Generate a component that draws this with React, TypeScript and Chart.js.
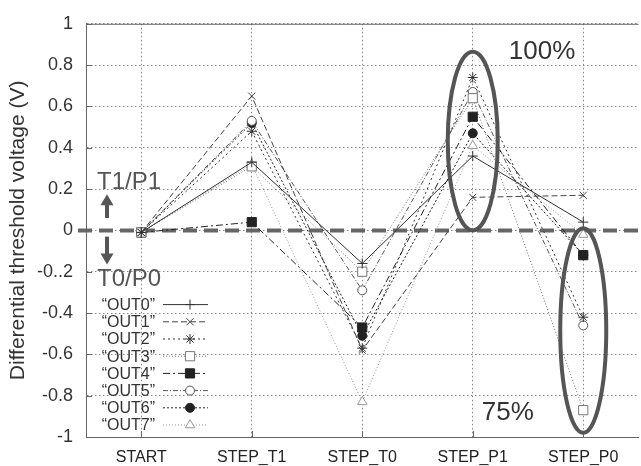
import React, { useEffect, useRef } from 'react';
import { Chart, registerables } from 'chart.js';

Chart.register(...registerables);

const categories = ['START', 'STEP_T1', 'STEP_T0', 'STEP_P1', 'STEP_P0'];
const yTickLabels = ['-1', '-0.8', '-0.6', '-0.4', '-0..2', '0', '0.2', '0.4', '0.6', '0.8', '1'];

const out0 = [-0.01, 0.33, -0.16, 0.36, 0.04];
const out1 = [-0.01, 0.65, -0.58, 0.16, 0.17];
const out2 = [-0.01, 0.48, -0.57, 0.74, -0.42];
const out3 = [-0.01, 0.31, -0.2, 0.64, -0.87];
const out4 = [-0.01, 0.04, -0.47, 0.55, -0.12];
const out5 = [-0.01, 0.53, -0.29, 0.67, -0.46];
const out6 = [-0.01, 0.52, -0.51, 0.47, -0.12];
const out7 = [-0.01, 0.32, -0.83, 0.41, -0.02];

const seriesLabels = ['“OUT0”', '“OUT1”', '“OUT2”', '“OUT3”', '“OUT4”', '“OUT5”', '“OUT6”', '“OUT7”'];
const seriesValues = [out0, out1, out2, out3, out4, out5, out6, out7];

const markerStyles = ['cross', 'crossRot', 'star', 'rect', 'rect', 'circle', 'circle', 'triangle'];
const markerRadius = [5, 5, 5, 6.5, 6.5, 4.5, 4.5, 5.5];
const markerFilled = [false, false, false, false, true, false, true, false];
const lineColors = ['#333', '#444', '#333', '#777', '#222', '#555', '#222', '#999'];
const lineDashes = [[], [6, 3], [2, 3], [1, 2], [7, 3, 2, 3], [5, 2, 1, 2], [2, 2], [1, 2]];

const FONT = '"Liberation Sans", Arial, sans-serif';

function drawMarker(ctx: CanvasRenderingContext2D, style: string, x: number, y: number, r: number, color: string, filled: boolean) {
  ctx.save();
  ctx.setLineDash([]);
  ctx.lineWidth = 1;
  ctx.strokeStyle = color;
  ctx.fillStyle = filled ? color : '#fff';
  ctx.beginPath();
  const d = r * Math.SQRT1_2;
  if (style === 'cross' || style === 'star') {
    ctx.moveTo(x - r, y); ctx.lineTo(x + r, y);
    ctx.moveTo(x, y - r); ctx.lineTo(x, y + r);
  }
  if (style === 'crossRot' || style === 'star') {
    ctx.moveTo(x - d, y - d); ctx.lineTo(x + d, y + d);
    ctx.moveTo(x + d, y - d); ctx.lineTo(x - d, y + d);
  }
  if (style === 'rect') {
    ctx.rect(x - d, y - d, 2 * d, 2 * d);
    ctx.fill();
  }
  if (style === 'circle') {
    ctx.arc(x, y, r, 0, Math.PI * 2);
    ctx.fill();
  }
  if (style === 'triangle') {
    for (let k = 0; k < 3; k++) {
      const a = -Math.PI / 2 + (k * 2 * Math.PI) / 3;
      const px = x + Math.cos(a) * r;
      const py = y + Math.sin(a) * r;
      if (k === 0) ctx.moveTo(px, py); else ctx.lineTo(px, py);
    }
    ctx.closePath();
    ctx.fill();
  }
  ctx.stroke();
  ctx.restore();
}

const decorPlugin = {
  id: 'decor',
  beforeDatasetsDraw(chart: any) {
    const { ctx, chartArea, scales } = chart;
    const y0 = scales.y.getPixelForValue(0);
    ctx.save();
    ctx.strokeStyle = '#666';
    ctx.lineWidth = 1;
    ctx.beginPath();
    ctx.moveTo(chartArea.left, chartArea.top + 0.5);
    ctx.lineTo(chartArea.right, chartArea.top + 0.5);
    ctx.stroke();
    scales.y.ticks.forEach((t: any) => {
      const py = Math.round(scales.y.getPixelForValue(t.value)) + 0.5;
      ctx.beginPath();
      ctx.moveTo(chartArea.left, py);
      ctx.lineTo(chartArea.left + 6, py);
      ctx.stroke();
    });
    categories.forEach((_, i) => {
      const px = Math.round(scales.x.getPixelForValue(i)) + 0.5;
      ctx.beginPath();
      ctx.moveTo(px, chartArea.bottom);
      ctx.lineTo(px, chartArea.bottom - 6);
      ctx.stroke();
    });
    ctx.strokeStyle = '#666';
    ctx.lineWidth = 4;
    ctx.setLineDash([14, 7]);
    ctx.beginPath();
    ctx.moveTo(chartArea.left - 8, y0);
    ctx.lineTo(chart.width, y0);
    ctx.stroke();
    ctx.restore();
  },
  afterDatasetsDraw(chart: any) {
    const { ctx, chartArea, scales } = chart;
    const xs = scales.x;
    const ys = scales.y;
    ctx.save();
    ctx.strokeStyle = '#555';
    ctx.lineWidth = 4;
    const ell = (idx: number, top: number, bottom: number, rx: number) => {
      const cx = xs.getPixelForValue(idx);
      const t = ys.getPixelForValue(top);
      const b = ys.getPixelForValue(bottom);
      ctx.beginPath();
      ctx.ellipse(cx, (t + b) / 2, rx, (b - t) / 2, 0, 0, Math.PI * 2);
      ctx.stroke();
    };
    ell(3, 0.865, 0.0, 25);
    ell(4, 0.01, -0.98, 23);

    ctx.fillStyle = '#333';
    ctx.textAlign = 'left';
    ctx.textBaseline = 'alphabetic';
    ctx.font = `26px ${FONT}`;
    ctx.fillText('100%', xs.getPixelForValue(3) + 36, ys.getPixelForValue(0.83));
    ctx.fillText('75%', xs.getPixelForValue(3) + 9, ys.getPixelForValue(-0.92));

    ctx.fillStyle = '#555';
    ctx.font = `24px ${FONT}`;
    ctx.fillText('T1/P1', chartArea.left + 11, ys.getPixelForValue(0.2));
    ctx.fillText('T0/P0', chartArea.left + 11, ys.getPixelForValue(-0.27));

    const ax = chartArea.left + 21;
    ctx.strokeStyle = '#555';
    ctx.lineWidth = 4;
    ctx.setLineDash([]);
    const arrow = (from: number, to: number) => {
      const f = ys.getPixelForValue(from);
      const t = ys.getPixelForValue(to);
      const dir = t < f ? 1 : -1;
      ctx.beginPath();
      ctx.moveTo(ax, f);
      ctx.lineTo(ax, t + dir * 8);
      ctx.stroke();
      ctx.beginPath();
      ctx.moveTo(ax, t);
      ctx.lineTo(ax - 6.5, t + dir * 11);
      ctx.lineTo(ax + 6.5, t + dir * 11);
      ctx.closePath();
      ctx.fill();
    };
    arrow(0.06, 0.175);
    arrow(-0.03, -0.165);

    ctx.font = `16px ${FONT}`;
    ctx.textAlign = 'right';
    ctx.textBaseline = 'middle';
    chart.data.datasets.forEach((ds: any, i: number) => {
      const ry = chartArea.bottom - 12 - (seriesLabels.length - 1 - i) * 17.2;
      ctx.fillStyle = '#333';
      ctx.fillText(ds.label, chartArea.left + 69, ry + 1);
      ctx.save();
      ctx.strokeStyle = lineColors[i];
      ctx.lineWidth = 1;
      ctx.setLineDash(lineDashes[i]);
      ctx.beginPath();
      ctx.moveTo(chartArea.left + 77, ry);
      ctx.lineTo(chartArea.left + 122, ry);
      ctx.stroke();
      ctx.restore();
      drawMarker(ctx, markerStyles[i], chartArea.left + 104, ry, markerRadius[i], lineColors[i], markerFilled[i]);
    });
    ctx.restore();
  },
};

export default function App() {
  const ref = useRef<HTMLCanvasElement | null>(null);
  useEffect(() => {
    document.body.style.margin = '0';
    const canvas = ref.current;
    if (!canvas) return;
    const chart = new Chart(canvas, {
      type: 'line',
      data: {
        labels: categories,
        datasets: seriesValues.map((vals, i) => ({
          label: seriesLabels[i],
          data: vals,
          borderColor: lineColors[i],
          borderWidth: 1,
          borderDash: lineDashes[i],
          pointStyle: markerStyles[i] as any,
          pointRadius: markerRadius[i],
          pointBorderColor: lineColors[i],
          pointBackgroundColor: markerFilled[i] ? lineColors[i] : '#fff',
          pointBorderWidth: 1,
          tension: 0,
          fill: false,
        })),
      },
      options: {
        animation: false,
        responsive: false,
        maintainAspectRatio: false,
        layout: { padding: { top: 19, right: 0, left: 0, bottom: 0 } },
        plugins: { legend: { display: false }, tooltip: { enabled: false } },
        scales: {
          x: {
            type: 'category',
            offset: true,
            grid: { display: true, offset: false, drawTicks: false, color: '#888', lineWidth: 1 },
            border: { display: true, color: '#666', width: 1, dash: [1.5, 2.5] },
            ticks: { font: { family: FONT, size: 16 }, color: '#222', padding: 11, maxRotation: 0, autoSkip: false },
            afterFit: (s: any) => { s.height = 29; },
          },
          y: {
            min: -1,
            max: 1,
            ticks: {
              stepSize: 0.2,
              callback: (_v: any, i: number) => yTickLabels[i],
              font: { family: FONT, size: 18 },
              color: '#333',
              padding: 13,
            },
            grid: { drawTicks: false, color: '#888', lineWidth: 1 },
            border: { display: true, color: '#666', width: 1, dash: [1.5, 2.5] },
            title: {
              display: true,
              text: 'Differential threshold voltage (V)',
              font: { family: FONT, size: 21 },
              color: '#333',
              padding: { top: 6, bottom: 0 },
            },
            afterFit: (s: any) => { s.width = 86; },
          },
        },
      },
      plugins: [decorPlugin],
    });
    return () => chart.destroy();
  }, []);
  return (
    <div style={{ width: 641, height: 466, overflow: 'hidden', background: '#fff' }}>
      <canvas ref={ref} width={646} height={466} style={{ display: 'block' }} />
    </div>
  );
}
